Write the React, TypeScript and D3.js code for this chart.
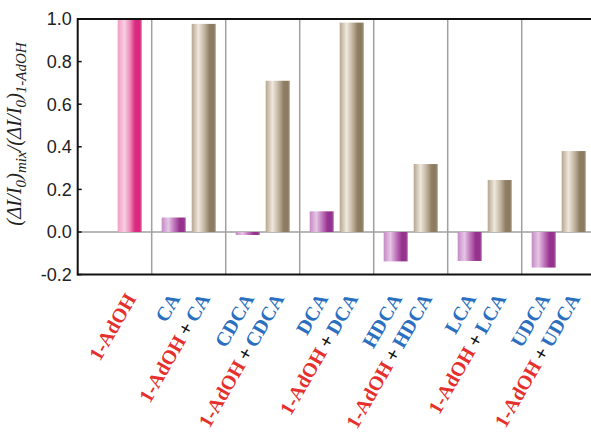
import React, { useEffect, useRef } from "react";
import { select, scaleBand, scaleLinear } from "d3";

// groups along the x axis (first one is 1-AdOH alone)
const groups = ["1-AdOH", "CA", "CDCA", "DCA", "HDCA", "LCA", "UDCA"];
// bile acid alone (purple bars), null where there is none
const acidValues = [null, 0.068, -0.014, 0.097, -0.138, -0.136, -0.167];
// 1-AdOH + bile acid (tan bars); first group is 1-AdOH itself
const mixValues = [1.0, 0.977, 0.71, 0.983, 0.319, 0.244, 0.38];
const yTicks = [1.0, 0.8, 0.6, 0.4, 0.2, 0.0, -0.2];

const W = 591;
const H = 436;
const margin = { left: 77.7, right: -4.7, top: 19, bottom: 161 };

const RED = "#e5302e";
const BLUE = "#2a6fc0";

const App = () => {
  const svgRef = useRef<SVGSVGElement>(null);

  useEffect(() => {
    const svg = select(svgRef.current);
    svg.selectAll("*").remove();

    const x0 = margin.left;
    const x1 = W - margin.right;
    const xScale = scaleBand().domain(groups).range([x0, x1]).padding(0);
    const inner = scaleBand()
      .domain(["acid", "mix"])
      .range([0, xScale.bandwidth()])
      .paddingInner(0.2)
      .paddingOuter(0.333);
    const yScale = scaleLinear().domain([-0.2, 1.0]).range([H - margin.bottom - 0.4, margin.top]);

    const defs = svg.append("defs");
    const grad = (id: string, stops: [number, string][]) => {
      const g = defs.append("linearGradient").attr("id", id).attr("x1", 0).attr("x2", 1).attr("y1", 0).attr("y2", 0);
      stops.forEach(([o, c]) => g.append("stop").attr("offset", o).attr("stop-color", c));
    };
    grad("pink", [[0, "#f19cc4"], [0.28, "#f8cfe2"], [0.5, "#ee8fbd"], [0.72, "#dc2c82"], [0.9, "#d8287e"], [1, "#e05a98"]]);
    grad("purple", [[0, "#c48ac4"], [0.28, "#e6c6e6"], [0.5, "#c27cbe"], [0.75, "#97338f"], [0.9, "#93328c"], [1, "#a85aa2"]]);
    grad("tan", [[0, "#b5a58e"], [0.28, "#efe8dd"], [0.5, "#c8bba8"], [0.75, "#8f7e64"], [0.9, "#8a7a60"], [1, "#a09078"]]);

    const yTop = yScale(1.0);
    const yBot = yScale(-0.2);
    const y0 = yScale(0);

    // separators
    svg.append("g")
      .selectAll("line")
      .data(groups.slice(1))
      .join("line")
      .attr("x1", (d) => xScale(d)!)
      .attr("x2", (d) => xScale(d)!)
      .attr("y1", yTop)
      .attr("y2", yBot)
      .attr("stroke", "#a0a0a0")
      .attr("stroke-width", 1.5);

    // zero line
    svg.append("line")
      .attr("x1", x0).attr("x2", x1)
      .attr("y1", y0).attr("y2", y0)
      .attr("stroke", "#a0a0a0")
      .attr("stroke-width", 1.5);

    const barY = (v: number) => Math.min(yScale(v), y0);
    const barH = (v: number) => Math.abs(yScale(v) - y0);

    // acid bars
    svg.append("g")
      .selectAll("rect")
      .data(groups.map((g, i) => ({ g, v: acidValues[i] })).filter((d) => d.v !== null))
      .join("rect")
      .attr("x", (d) => xScale(d.g)! + inner("acid")!)
      .attr("width", inner.bandwidth())
      .attr("y", (d) => barY(d.v as number))
      .attr("height", (d) => barH(d.v as number))
      .attr("fill", "url(#purple)");

    // mix bars
    svg.append("g")
      .selectAll("rect")
      .data(groups.map((g, i) => ({ g, i, v: mixValues[i] })))
      .join("rect")
      .attr("x", (d) => xScale(d.g)! + inner("mix")!)
      .attr("width", inner.bandwidth())
      .attr("y", (d) => barY(d.v))
      .attr("height", (d) => barH(d.v))
      .attr("fill", (d) => (d.i === 0 ? "url(#pink)" : "url(#tan)"));

    // frame
    svg.append("line").attr("x1", x0).attr("x2", x1).attr("y1", yTop).attr("y2", yTop).attr("stroke", "#111").attr("stroke-width", 2);
    svg.append("line").attr("x1", x0).attr("x2", x1).attr("y1", yBot).attr("y2", yBot).attr("stroke", "#111").attr("stroke-width", 2);
    svg.append("line").attr("x1", x0).attr("x2", x0).attr("y1", yTop - 1).attr("y2", yBot + 1).attr("stroke", "#111").attr("stroke-width", 2);

    // y ticks
    const yt = svg.append("g").selectAll("g").data(yTicks).join("g");
    yt.append("line")
      .attr("x1", x0).attr("x2", x0 + 4)
      .attr("y1", (d) => yScale(d)).attr("y2", (d) => yScale(d))
      .attr("stroke", "#111").attr("stroke-width", 1.5);
    yt.append("text")
      .attr("x", x0 - 6)
      .attr("y", (d) => yScale(d))
      .attr("dy", "0.36em")
      .attr("text-anchor", "end")
      .attr("font-family", "Liberation Sans, Arial, sans-serif")
      .attr("font-size", 18)
      .attr("fill", "#222")
      .text((d) => d.toFixed(1));

    // y label
    const yl = svg.append("text")
      .attr("transform", `translate(21, ${134}) rotate(-90)`)
      .attr("text-anchor", "middle")
      .attr("font-family", "Liberation Serif, Times New Roman, serif")
      .attr("font-style", "italic")
      .attr("font-size", 20.5)
      .attr("fill", "#222");
    const parts: [string, boolean][] = [
      ["(ΔI/I", false], ["0", true], [")", false], ["mix", true],
      ["/(ΔI/I", false], ["0", true], [")", false], ["1-AdOH", true],
    ];
    let prevSub = false;
    parts.forEach(([t, sub]) => {
      const dy = sub && !prevSub ? 5 : !sub && prevSub ? -5 : 0;
      yl.append("tspan").attr("dy", dy).attr("font-size", sub ? 15 : 20.5).text(t);
      prevSub = sub;
    });

    // x labels
    const labelFont = "Liberation Serif, Times New Roman, serif";
    const ly = yBot + 24;
    const fs = 20;
    groups.forEach((g, i) => {
      const cx = xScale(g)! + inner("mix")! + inner.bandwidth() / 2 + 7;
      const ax = xScale(g)! + inner("acid")! + inner.bandwidth() / 2 + 7;
      if (i === 0) {
        svg.append("text")
          .attr("transform", `translate(${cx}, ${ly}) rotate(-60)`)
          .attr("text-anchor", "end")
          .attr("font-family", labelFont)
          .attr("font-weight", "bold")
          .attr("font-size", fs)
          .attr("fill", RED)
          .text(g);
        return;
      }
      svg.append("text")
        .attr("transform", `translate(${ax}, ${ly}) rotate(-60)`)
        .attr("text-anchor", "end")
        .attr("font-family", labelFont)
        .attr("font-weight", "bold")
        .attr("font-size", fs)
        .attr("fill", BLUE)
        .text(g);
      const t = svg.append("text")
        .attr("transform", `translate(${cx}, ${ly}) rotate(-60)`)
        .attr("text-anchor", "end")
        .attr("font-family", labelFont)
        .attr("font-weight", "bold")
        .attr("font-size", fs);
      t.append("tspan").attr("fill", RED).text("1-AdOH");
      t.append("tspan").attr("fill", "#111").attr("dx", 4).text("+");
      t.append("tspan").attr("fill", BLUE).attr("dx", 4).text(g);
    });
  }, []);

  return (
    <svg
      ref={svgRef}
      width={W}
      height={H}
      style={{ position: "absolute", left: 0, top: 0, background: "#fff" }}
    />
  );
};

export default App;
